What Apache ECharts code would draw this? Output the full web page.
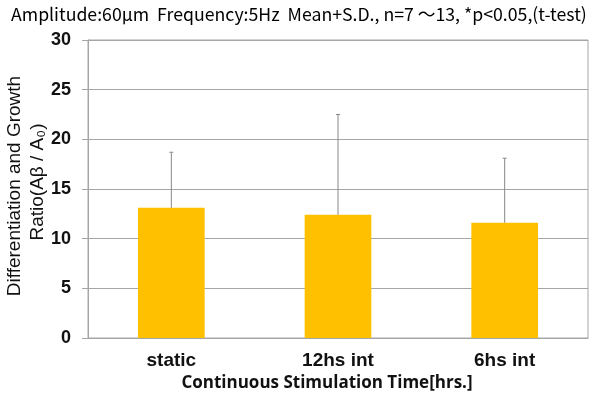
<!DOCTYPE html>
<html>
<head>
<meta charset="utf-8">
<script src="https://cdn.jsdelivr.net/npm/echarts@6/dist/echarts.min.js"></script>
<style>
  html, body { margin: 0; padding: 0; background: #fff; }
  #chart { width: 590px; height: 396px; }
</style>
</head>
<body>
<div id="chart"></div>
<script>
const categories = ['static', '12hs int', '6hs int'];
const means = [13.1, 12.4, 11.6];
const sdUpper = [18.7, 22.5, 18.1];
const yTicks = { min: 0, max: 30, interval: 5 };

const chart = echarts.init(document.getElementById('chart'));

const grey = '#a6a6a6';

const option = {
  backgroundColor: '#fff',
  animation: false,
  title: {
    text: 'Amplitude:60μm  Frequency:5Hz  Mean+S.D., n=7 ～13, *p<0.05,(t-test)',
    left: 6,
    top: 0,
    textStyle: {
      fontFamily: 'Noto Sans CJK JP',
      fontSize: 17.7,
      fontWeight: 'normal',
      color: '#000'
    }
  },
  grid: {
    left: 88, right: 2, top: 40, bottom: 58,
    outerBoundsMode: 'none',
    containLabel: false,
    show: true, borderColor: grey, borderWidth: 1
  },
  graphic: [
    {
      type: 'text', x: 15, y: 186, rotation: Math.PI / 2,
      style: {
        text: 'Differentiation and Growth',
        font: '19px Arial, "Liberation Sans"',
        fill: '#111', align: 'center', verticalAlign: 'middle'
      }
    },
    {
      type: 'text', x: 38, y: 182, rotation: Math.PI / 2,
      style: {
        text: 'Ratio(Aβ / A₀)',
        font: '19px Arial, "Liberation Sans"',
        fill: '#111', align: 'center', verticalAlign: 'middle'
      }
    }
  ],
  xAxis: {
    type: 'category',
    data: categories,
    name: 'Continuous Stimulation Time[hrs.]',
    nameLocation: 'middle',
    nameGap: 36,
    nameTextStyle: { fontFamily: 'Open Sans', fontWeight: 'bold', fontSize: 17, color: '#111', padding: [0, 22, 0, 0] },
    axisLine: { lineStyle: { color: grey } },
    axisTick: { length: 5, lineStyle: { color: grey } },
    axisLabel: { fontFamily: 'Arial, Liberation Sans', fontWeight: 'bold', fontSize: 19, color: '#111', margin: 13 }
  },
  yAxis: {
    type: 'value',
    min: yTicks.min, max: yTicks.max, interval: yTicks.interval,
    axisLine: { show: true, lineStyle: { color: grey } },
    axisTick: { show: true, length: 6, lineStyle: { color: grey } },
    splitLine: { lineStyle: { color: grey } },
    axisLabel: { fontFamily: 'Arial, Liberation Sans', fontWeight: 'bold', fontSize: 18, color: '#111', margin: 17 }
  },
  series: [
    {
      type: 'bar',
      data: means,
      barWidth: '40%',
      itemStyle: { color: '#FFC000' },
      z: 2
    },
    {
      type: 'custom',
      data: categories.map((c, i) => [i, means[i], sdUpper[i]]),
      z: 3,
      renderItem: (params, api) => {
        const base = api.coord([api.value(0), api.value(1)]);
        const top = api.coord([api.value(0), api.value(2)]);
        const style = { stroke: '#888', lineWidth: 1 };
        return {
          type: 'group',
          children: [
            { type: 'line', shape: { x1: base[0], y1: base[1], x2: top[0], y2: top[1] }, style },
            { type: 'line', shape: { x1: top[0] - 2, y1: top[1], x2: top[0] + 2, y2: top[1] }, style }
          ]
        };
      }
    }
  ]
};

chart.setOption(option);
</script>
</body>
</html>
